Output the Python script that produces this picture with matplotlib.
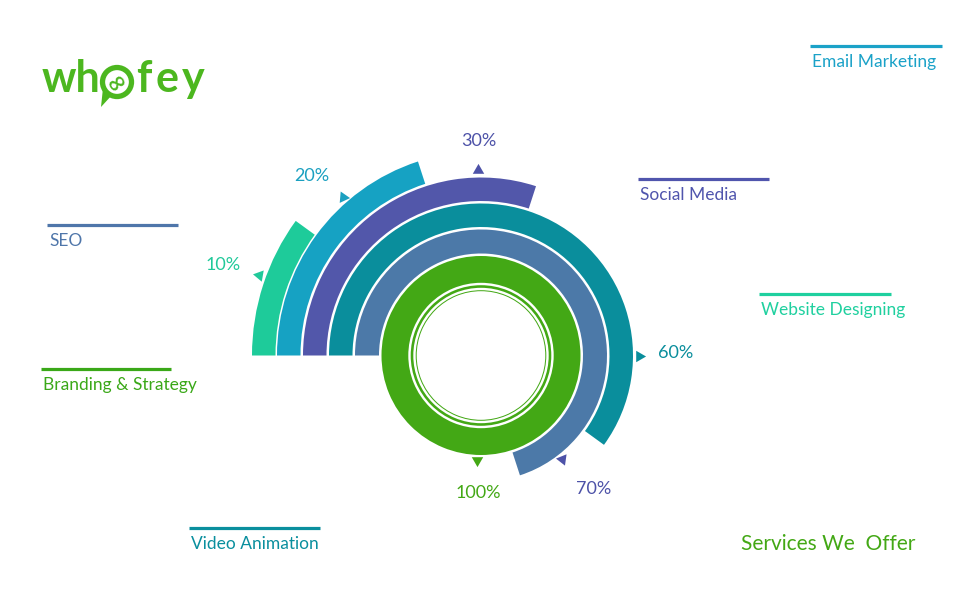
import matplotlib
matplotlib.use("Agg")
import matplotlib.pyplot as plt
from matplotlib.patches import Wedge, Circle, Polygon
import numpy as np

plt.rcParams['font.family'] = ['Lato', 'DejaVu Sans']

# ---- data ----
pct_labels = ['10%', '20%', '30%', '60%', '70%', '100%']
pct_values = [10, 20, 30, 60, 70, 100]
arc_colors = ['#1ecb9a', '#16a2c3', '#5257aa', '#0a8e9c', '#4c79a8', '#43a815']
label_colors = ['#21c99a', '#1ba0c0', '#4d52a8', '#0a8e9c', '#4d52a8', '#43a815']
marker_pos_angle = [160, 131, 91, 0, -52, -92]
marker_tip_dir = [-70, -5, 90, 0, 172, -90]

services = ['Email Marketing', 'Social Media', 'SEO', 'Website Designing',
            'Branding & Strategy', 'Video Animation']
service_colors = ['#1ba2c8', '#5055ad', '#4f76aa', '#1fd09f', '#3aa818', '#0a8f9e']
service_line_x = [(810, 942), (638, 769), (47, 178), (759, 891), (41, 171), (189, 320)]
service_line_y = [46, 179, 225, 294, 369, 528]

title = 'Services We  Offer'

W, H = 980, 596
fig = plt.figure(figsize=(W / 100, H / 100), dpi=100)
ax = fig.add_axes([0, 0, 1, 1])
ax.set_xlim(0, W)
ax.set_ylim(0, H)
ax.set_aspect('equal')
ax.axis('off')

def Y(y):
    return H - y

cx, cy = 481, Y(355.5)
outer_r = [229, 204, 178, 152, 126, 99.5]
ring_w = [23.5, 23.5, 23.5, 23.5, 24, 26.8]

for v, c, ro, w in zip(pct_values, arc_colors, outer_r, ring_w):
    if v >= 100:
        ax.add_patch(Wedge((cx, cy), ro, 0, 360, width=w, facecolor=c, edgecolor='none'))
    else:
        ax.add_patch(Wedge((cx, cy), ro, 180 - 3.6 * v, 180, width=w, facecolor=c, edgecolor='none'))

# inner decorative rings
ax.add_patch(Wedge((cx, cy), 70.3, 0, 360, width=2.6, facecolor='#43a815', edgecolor='none'))
ax.add_patch(Wedge((cx, cy), 65.3, 0, 360, width=1.0, facecolor='#43a815', edgecolor='none'))

# markers
marker_r = [236, 210, 186, 158, 131, 105]
for ang, d, r, c in zip(marker_pos_angle, marker_tip_dir, marker_r, label_colors):
    a = np.deg2rad(ang)
    ax.plot(cx + r * np.cos(a), cy + r * np.sin(a), marker=(3, 0, d - 90),
            markersize=9.5, color=c, markeredgewidth=0, linestyle='none')

# percentage labels
pct_pos = [(223, 265), (312, 176), (479, 141), (676, 353), (594, 489), (478, 493)]
for t, (x, y), c in zip(pct_labels, pct_pos, label_colors):
    ax.text(x, Y(y), t, color=c, fontsize=13, ha='center', va='center')

# service legend lines and labels
for s, c, (x0, x1), y in zip(services, service_colors, service_line_x, service_line_y):
    ax.plot([x0, x1], [Y(y), Y(y)], color=c, linewidth=2.3, solid_capstyle='butt')
    ax.text(x0 + 2, Y(y + 16), s, color=c, fontsize=12.5, ha='left', va='center')

ax.text(741, Y(544), title, color='#43a815', fontsize=15, ha='left', va='center')

# logo
green = '#4cb71f'
logo_parts = ['wh', 'f', 'e', 'y']
logo_x = [42, 136, 156, 182]
for ch, x in zip(logo_parts, logo_x):
    ax.text(x, Y(92), ch, color=green, fontsize=31, fontweight='bold', ha='left', va='baseline')
ax.add_patch(Circle((117, Y(82)), 14.5, facecolor='none', edgecolor=green, linewidth=3.8))
ax.add_patch(Polygon([(103, Y(88)), (112, Y(95)), (101, Y(107))], closed=True, facecolor=green, edgecolor='none'))
ax.text(117, Y(82), '∞', color=green, fontsize=17, fontweight='bold', ha='center', va='center', rotation=35,
        family='DejaVu Sans')

fig.savefig('out.png', dpi=100, facecolor='white')
